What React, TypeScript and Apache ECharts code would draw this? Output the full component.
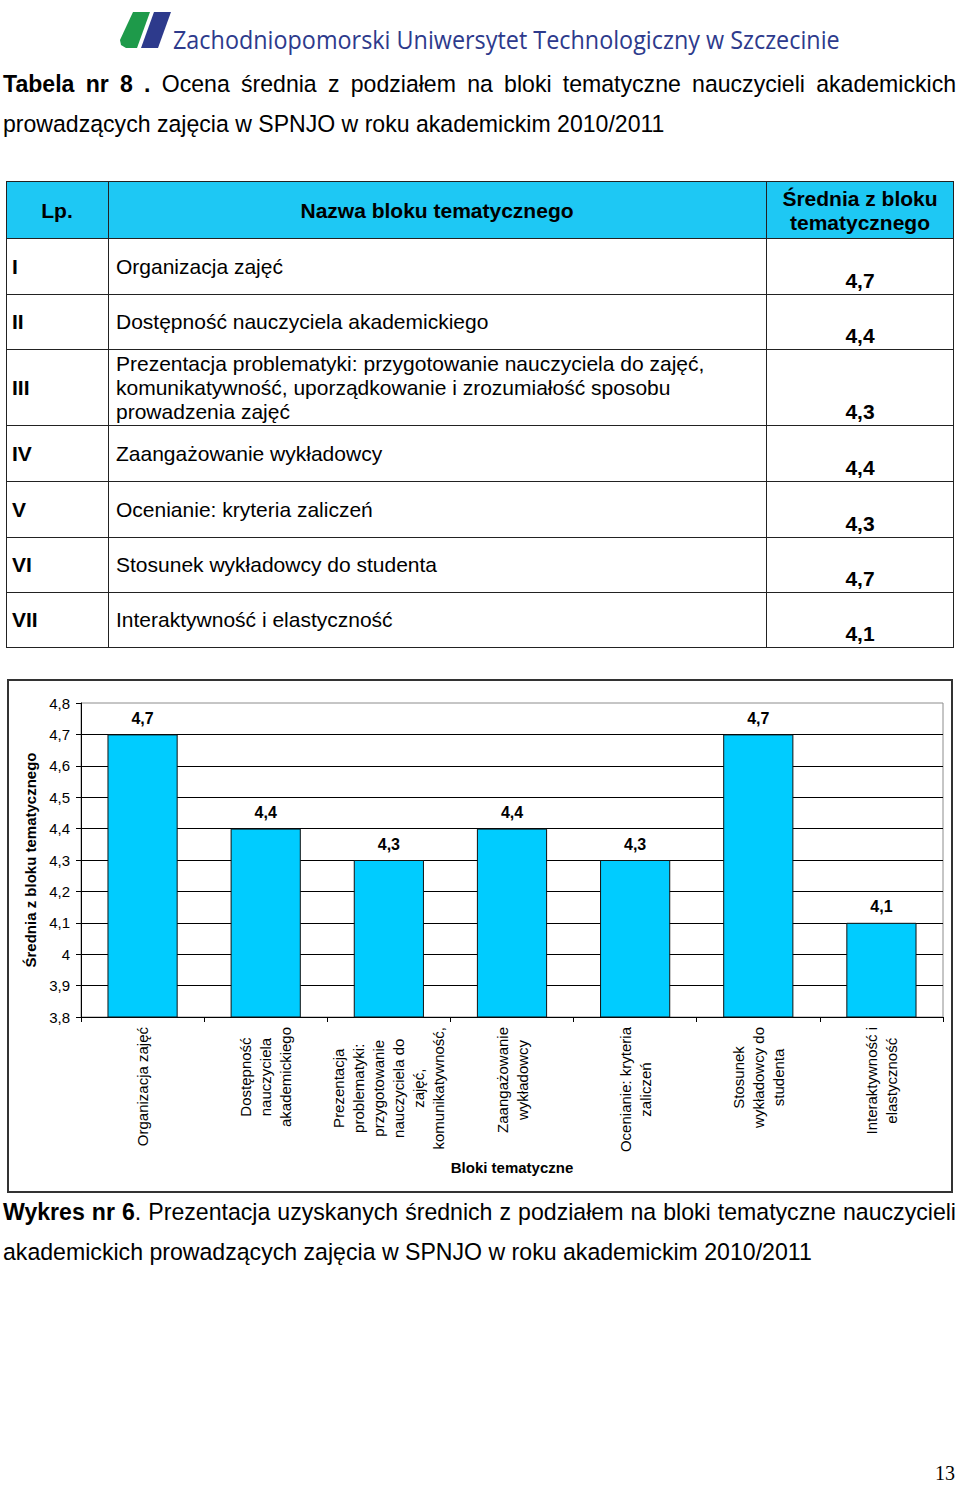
import React, { useEffect, useRef } from "react";
import * as echarts from "echarts";

// ---------- data ----------
const lpNumerals = ["I", "II", "III", "IV", "V", "VI", "VII"];
const blockNames: string[][] = [
  ["Organizacja zajęć"],
  ["Dostępność nauczyciela akademickiego"],
  [
    "Prezentacja problematyki: przygotowanie nauczyciela do zajęć,",
    "komunikatywność, uporządkowanie i zrozumiałość sposobu",
    "prowadzenia zajęć",
  ],
  ["Zaangażowanie wykładowcy"],
  ["Ocenianie: kryteria zaliczeń"],
  ["Stosunek wykładowcy do studenta"],
  ["Interaktywność i elastyczność"],
];
const blockMeans = [4.7, 4.4, 4.3, 4.4, 4.3, 4.7, 4.1];
const chartCategories = [
  "Organizacja zajęć",
  "Dostępność\nnauczyciela\nakademickiego",
  "Prezentacja\nproblematyki:\nprzygotowanie\nnauczyciela do\nzajęć,\nkomunikatywność,",
  "Zaangażowanie\nwykładowcy",
  "Ocenianie: kryteria\nzaliczeń",
  "Stosunek\nwykładowcy do\nstudenta",
  "Interaktywność i\nelastyczność",
];
const yMin = 3.8;
const yMax = 4.8;
const yStep = 0.1;

const headerLp = "Lp.";
const headerName = "Nazwa bloku tematycznego";
const headerMean = ["Średnia z bloku", "tematycznego"];
const logoText = "Zachodniopomorski Uniwersytet Technologiczny w Szczecinie";
const titleLines = [
  "**Tabela** **nr** **8** **.** Ocena średnia z podziałem na bloki tematyczne nauczycieli akademickich",
  "prowadzących zajęcia w SPNJO w roku akademickim 2010/2011",
];
const captionLines = [
  "**Wykres** **nr** **6**. Prezentacja uzyskanych średnich z podziałem na bloki tematyczne nauczycieli",
  "akademickich prowadzących zajęcia w SPNJO w roku akademickim 2010/2011",
];
const yAxisName = "Średnia z bloku tematycznego";
const xAxisName = "Bloki tematyczne";
const pageNumber = "13";

// ---------- helpers ----------
const SANS = '"Liberation Sans", Arial, Helvetica, sans-serif';
const SERIF = '"Liberation Serif", "Times New Roman", serif';
const LOGO_FONT = '"Open Sans", sans-serif';
const fmt = (v: number) => String(Math.round(v * 10) / 10).replace(".", ",");

let ctx: CanvasRenderingContext2D | null = null;
function measure(text: string, size: number, bold: boolean, family = SANS) {
  if (!ctx) ctx = document.createElement("canvas").getContext("2d");
  ctx!.font = `${bold ? "bold " : ""}${size}px ${family}`;
  return ctx!.measureText(text).width;
}

type Seg = { t: string; b: boolean };
function parseWords(line: string): Seg[][] {
  return line.split(" ").map((w) => {
    const parts = w.split("**");
    const segs: Seg[] = [];
    parts.forEach((p, i) => {
      if (p.length) segs.push({ t: p, b: i % 2 === 1 });
    });
    return segs;
  });
}

function lineElements(line: string, x0: number, x1: number | null, y: number, size: number) {
  const words = parseWords(line);
  const widths = words.map((segs) => segs.reduce((s, g) => s + measure(g.t, size, g.b), 0));
  const total = widths.reduce((a, b) => a + b, 0);
  const gap = x1 != null ? (x1 - x0 - total) / (words.length - 1) : measure(" ", size, false);
  const els: any[] = [];
  let x = x0;
  words.forEach((segs, i) => {
    els.push({
      type: "text",
      x,
      y,
      style: {
        text: segs.map((g) => `{${g.b ? "b" : "n"}|${g.t}}`).join(""),
        align: "left",
        verticalAlign: "middle",
        rich: {
          b: { fontFamily: SANS, fontSize: size, fontWeight: "bold", fill: "#000" },
          n: { fontFamily: SANS, fontSize: size, fontWeight: "normal", fill: "#000" },
        },
      },
    });
    x += widths[i] + gap;
  });
  return els;
}

function fitSize(line: string, width: number) {
  const words = parseWords(line);
  const base = 22;
  const w =
    words.reduce((s, segs) => s + segs.reduce((a, g) => a + measure(g.t, base, g.b), 0), 0) +
    (words.length - 1) * measure(" ", base, false);
  return (base * width) / w;
}

function buildGraphics() {
  const g: any[] = [];
  // logo
  g.push({
    type: "polygon",
    shape: { points: [[133, 12], [150, 12], [137, 48], [126, 48], [121, 45], [120, 40]] },
    style: { fill: "#1e9a4a" },
  });
  g.push({
    type: "polygon",
    shape: { points: [[154, 12], [171, 12], [158, 48], [141, 48]] },
    style: { fill: "#2d3a8c" },
  });
  const logoSize = 26;
  const logoW = measure(logoText, logoSize, false, LOGO_FONT);
  g.push({
    type: "text",
    x: 173,
    y: 39,
    scaleX: 667 / logoW,
    style: {
      text: logoText,
      fontFamily: LOGO_FONT,
      fontSize: logoSize,
      fill: "#2d3a8c",
      align: "left",
      verticalAlign: "middle",
    },
  });

  // title
  const tSize = fitSize(titleLines[1], 662);
  g.push(...lineElements(titleLines[0], 3, 956, 84, tSize));
  g.push(...lineElements(titleLines[1], 3, null, 124, tSize));

  // table
  const colX = [6, 108, 766, 953];
  const headTop = 181;
  const headBottom = 238;
  const rowHeights = [56, 55, 76, 56, 56, 55, 55];
  const rowTops: number[] = [];
  let yy = headBottom;
  rowHeights.forEach((h) => {
    rowTops.push(yy);
    yy += h;
  });
  const tableBottom = yy;
  const lineStyle = { stroke: "#222", lineWidth: 1 };
  g.push({
    type: "rect",
    shape: { x: colX[0], y: headTop, width: colX[3] - colX[0], height: headBottom - headTop },
    style: { fill: "#1ec8f4" },
  });
  [headTop, headBottom, ...rowTops.slice(1), tableBottom].forEach((y) =>
    g.push({ type: "line", shape: { x1: colX[0], y1: y + 0.5, x2: colX[3], y2: y + 0.5 }, style: lineStyle })
  );
  colX.forEach((x) =>
    g.push({ type: "line", shape: { x1: x + 0.5, y1: headTop, x2: x + 0.5, y2: tableBottom + 1 }, style: lineStyle })
  );
  const ts = (text: string, x: number, y: number, bold: boolean, align = "left") => ({
    type: "text",
    x,
    y,
    style: {
      text,
      fontFamily: SANS,
      fontSize: 21,
      fontWeight: bold ? "bold" : "normal",
      fill: "#000",
      align,
      verticalAlign: "middle",
    },
  });
  g.push(ts(headerLp, 57, 210, true, "center"));
  g.push(ts(headerName, 437, 210, true, "center"));
  g.push(ts(headerMean[0], 860, 198, true, "center"));
  g.push(ts(headerMean[1], 860, 222, true, "center"));
  lpNumerals.forEach((n, i) => {
    const top = rowTops[i];
    const h = rowHeights[i];
    g.push(ts(n, 12, top + h / 2, true));
    const lines = blockNames[i];
    lines.forEach((l, k) => g.push(ts(l, 116, top + h / 2 + (k - (lines.length - 1) / 2) * 24, false)));
    g.push(ts(fmt(blockMeans[i]), 860, top + h - 14, true, "center"));
  });

  // chart frame
  g.push({
    type: "rect",
    shape: { x: 8, y: 680, width: 944, height: 512 },
    style: { fill: "none", stroke: "#333", lineWidth: 2 },
    z: 10,
  });

  // caption
  const cSize = fitSize(captionLines[1], 809);
  g.push(...lineElements(captionLines[0], 3, 956, 1212, cSize));
  g.push(...lineElements(captionLines[1], 3, null, 1252, cSize));

  // page number
  g.push({
    type: "text",
    x: 955,
    y: 1473,
    style: { text: pageNumber, fontFamily: SERIF, fontSize: 20, fill: "#000", align: "right", verticalAlign: "middle" },
  });
  return g;
}

function buildOption(): any {
  const txt = { fontFamily: SANS, fontSize: 15, color: "#000" };
  return {
    animation: false,
    backgroundColor: "#fff",
    graphic: { elements: buildGraphics() },
    grid: {
      left: 81,
      top: 703,
      width: 862,
      height: 314,
      show: true,
      borderColor: "#8c8c8c",
      borderWidth: 1,
      backgroundColor: "transparent",
      containLabel: false,
    },
    xAxis: {
      type: "category",
      data: chartCategories,
      axisLine: { show: true, lineStyle: { color: "#000", width: 1 } },
      axisTick: { show: true, length: 5, lineStyle: { color: "#000" } },
      axisLabel: {
        interval: 0,
        rotate: 90,
        margin: 10,
        hideOverlap: false,
        formatter: (v: string) => v.split("\n").map((l) => `{c|${l}}`).join("\n"),
        rich: { c: { ...txt, align: "center", lineHeight: 20 } },
      },
      name: xAxisName,
      nameLocation: "middle",
      nameGap: 143,
      nameTextStyle: { ...txt, fontWeight: "bold" },
    },
    yAxis: {
      type: "value",
      min: yMin,
      max: yMax,
      interval: yStep,
      axisLine: { show: true, lineStyle: { color: "#000", width: 1 } },
      axisTick: { show: true, length: 5, lineStyle: { color: "#000" } },
      axisLabel: { ...txt, margin: 11, formatter: (v: number) => fmt(v) },
      splitLine: { show: true, showMaxLine: false, lineStyle: { color: "#000", width: 1 } },
      name: yAxisName,
      nameLocation: "middle",
      nameGap: 43,
      nameRotate: 90,
      nameTextStyle: { ...txt, fontWeight: "bold" },
    },
    series: [
      {
        type: "bar",
        data: blockMeans,
        barCategoryGap: "43%",
        itemStyle: { color: "#00ccff", borderColor: "#111", borderWidth: 1 },
        label: {
          show: true,
          position: "top",
          distance: 8,
          ...txt,
          fontSize: 16,
          fontWeight: "bold",
          formatter: (p: any) => fmt(p.value),
        },
      },
    ],
  };
}

export default function App() {
  const ref = useRef<HTMLDivElement>(null);
  useEffect(() => {
    const chart = echarts.init(ref.current!, null, { renderer: "svg", width: 960, height: 1486 });
    chart.setOption(buildOption());
    return () => chart.dispose();
  }, []);
  return (
    <div
      ref={ref}
      style={{ position: "absolute", left: 0, top: 0, width: 960, height: 1486, background: "#fff" }}
    />
  );
}
